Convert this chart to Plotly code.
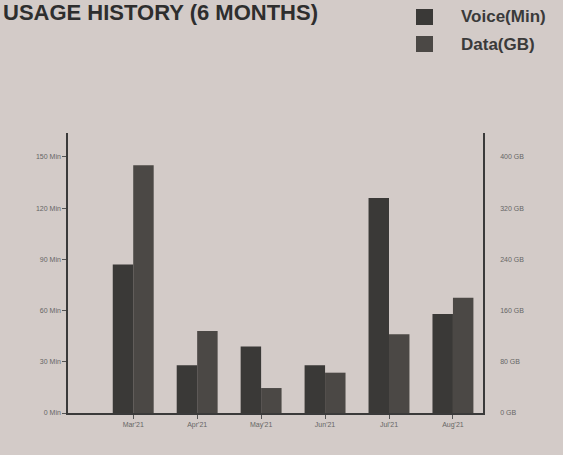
import plotly.graph_objects as go

months = ["Mar'21", "Apr'21", "May'21", "Jun'21", "Jul'21", "Aug'21"]
voice_min = [87, 28, 39, 28, 126, 58]
data_gb = [387, 128, 39, 63, 123, 180]
left_ticks = [0, 30, 60, 90, 120, 150]
left_labels = ["0 Min", "30 Min", "60 Min", "90 Min", "120 Min", "150 Min"]
right_ticks = [0, 80, 160, 240, 320, 400]
right_labels = ["0 GB", "80 GB", "160 GB", "240 GB", "320 GB", "400 GB"]
series_names = ["Voice(Min)", "Data(GB)"]

W, H = 563, 455
ML, MR, MT, MB = 68, 80, 133, 42
PW, PH = W - ML - MR, H - MT - MB

BG = "#d3cbc8"
VOICE_C = "#3a3937"
DATA_C = "#4b4845"
FONT = "Liberation Sans, Arial, sans-serif"


def px_x(x):
    return (x - ML) / PW


def px_y(y):
    return (H - MB - y) / PH


fig = go.Figure()
fig.add_trace(go.Bar(x=months, y=voice_min, name=series_names[0], marker_color=VOICE_C,
                     marker_line_width=0, offsetgroup="1", yaxis="y"))
fig.add_trace(go.Bar(x=months, y=data_gb, name=series_names[1], marker_color=DATA_C,
                     marker_line_width=0, offsetgroup="2", yaxis="y2"))

shapes = []
annotations = [dict(text="<b>USAGE HISTORY (6 MONTHS)</b>", x=px_x(1), y=px_y(0),
                    xref="paper", yref="paper", xanchor="left", yanchor="top",
                    xshift=0, yshift=2, showarrow=False,
                    font=dict(size=22, color="#2e2e2e", family=FONT))]
for i, (name, col) in enumerate(zip(series_names, [VOICE_C, DATA_C])):
    top = 9 + i * 27
    shapes.append(dict(type="rect", xref="paper", yref="paper",
                       x0=px_x(416), x1=px_x(433), y0=px_y(top + 16), y1=px_y(top),
                       fillcolor=col, line_width=0))
    annotations.append(dict(text="<b>" + name + "</b>", x=px_x(459), y=px_y(top + 8),
                            xref="paper", yref="paper", xanchor="left", yanchor="middle",
                            showarrow=False,
                            font=dict(size=17, color="#3a3a3a", family=FONT)))

fig.update_layout(
    width=W, height=H,
    margin=dict(l=ML, r=MR, t=MT, b=MB),
    paper_bgcolor=BG, plot_bgcolor=BG,
    barmode="group", bargap=0.36, bargroupgap=0,
    font=dict(family=FONT, color="#666"),
    showlegend=False,
    xaxis=dict(type="category", range=[-1.02, 5.47], showline=True, linecolor="#3a3a3a",
               linewidth=1.5, ticks="outside", ticklen=4, tickcolor="#555",
               tickfont=dict(size=7, color="#666"), showgrid=False, zeroline=False),
    yaxis=dict(range=[0, 164], tickvals=left_ticks, ticktext=left_labels,
               showline=True, linecolor="#3a3a3a", linewidth=1.5, ticks="outside",
               ticklen=4, tickcolor="#555", tickfont=dict(size=7, color="#666"),
               showgrid=False, zeroline=False),
    yaxis2=dict(range=[0, 437.5], tickvals=right_ticks, ticktext=right_labels,
                overlaying="y", side="right", showline=True, linecolor="#3a3a3a",
                linewidth=1.5, ticks="", ticklabelstandoff=14,
                tickfont=dict(size=7, color="#666"), showgrid=False, zeroline=False),
    shapes=shapes,
    annotations=annotations,
)

fig.write_html("out.html", config={"displayModeBar": False},
               post_script="document.body.style.margin='0';")
